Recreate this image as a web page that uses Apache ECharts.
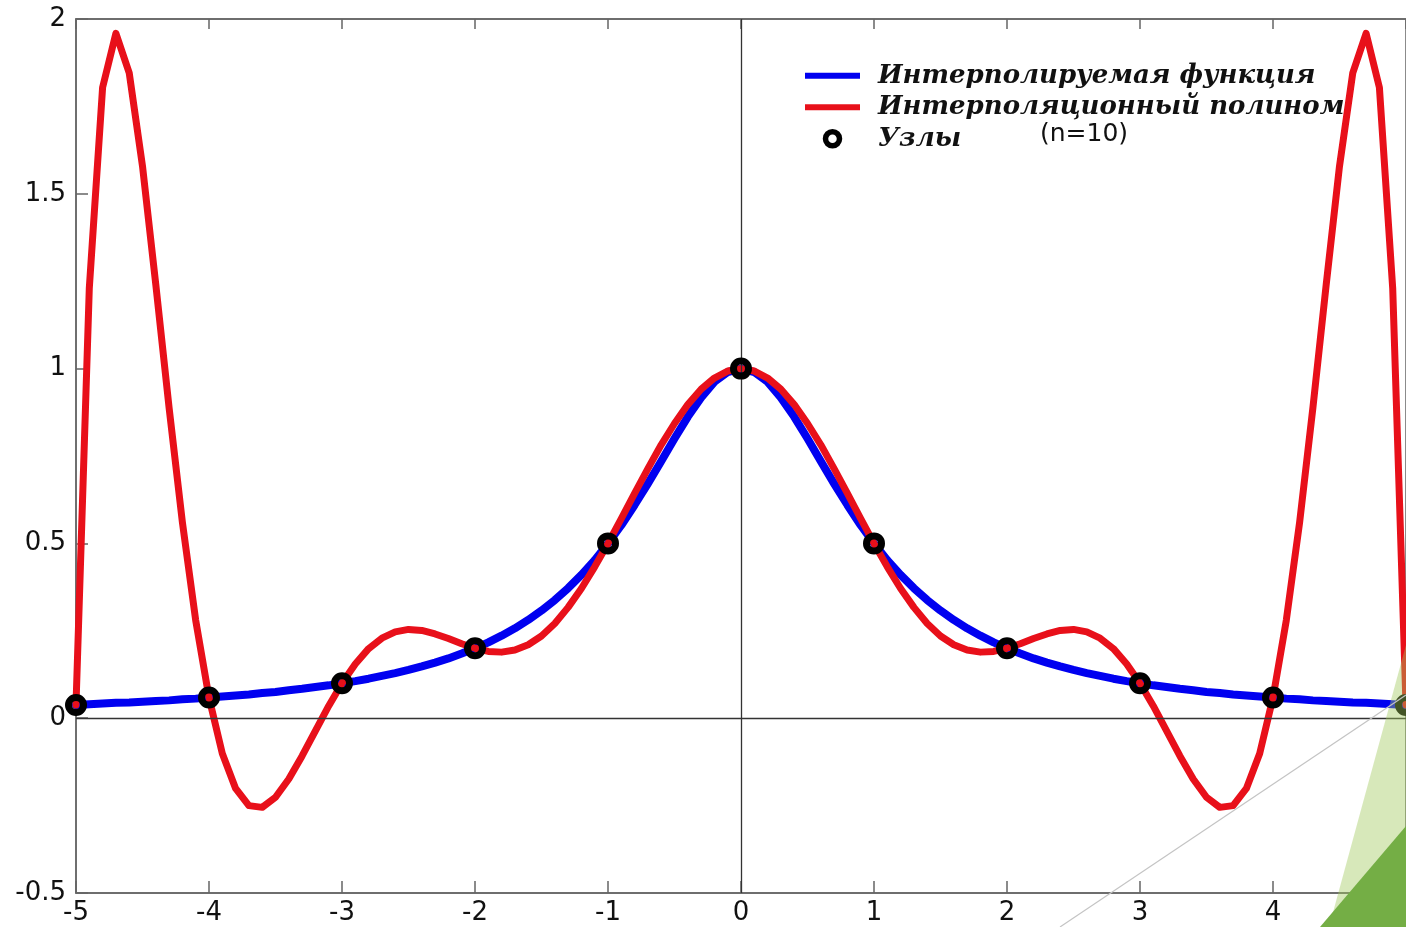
<!DOCTYPE html>
<html>
<head>
<meta charset="utf-8">
<script src="https://cdn.jsdelivr.net/npm/echarts@6/dist/echarts.min.js"></script>
<style>
html,body{margin:0;padding:0;background:#ffffff;}
#chart{width:1406px;height:927px;}
</style>
</head>
<body>
<div id="chart"></div>
<script>
// x sample points
const xValues = [
 -5.0,-4.9,-4.8,-4.7,-4.6,-4.5,-4.4,-4.3,-4.2,-4.1,
 -4.0,-3.9,-3.8,-3.7,-3.6,-3.5,-3.4,-3.3,-3.2,-3.1,
 -3.0,-2.9,-2.8,-2.7,-2.6,-2.5,-2.4,-2.3,-2.2,-2.1,
 -2.0,-1.9,-1.8,-1.7,-1.6,-1.5,-1.4,-1.3,-1.2,-1.1,
 -1.0,-0.9,-0.8,-0.7,-0.6,-0.5,-0.4,-0.3,-0.2,-0.1,
 0.0,
 0.1,0.2,0.3,0.4,0.5,0.6,0.7,0.8,0.9,1.0,
 1.1,1.2,1.3,1.4,1.5,1.6,1.7,1.8,1.9,2.0,
 2.1,2.2,2.3,2.4,2.5,2.6,2.7,2.8,2.9,3.0,
 3.1,3.2,3.3,3.4,3.5,3.6,3.7,3.8,3.9,4.0,
 4.1,4.2,4.3,4.4,4.5,4.6,4.7,4.8,4.9,5.0
];
// interpolated function (blue)
const functionValues = [
 0.038,0.040,0.042,0.044,0.045,0.047,0.049,0.051,0.054,0.056,
 0.059,0.062,0.065,0.068,0.072,0.075,0.080,0.084,0.089,0.094,
 0.100,0.106,0.113,0.121,0.129,0.138,0.148,0.159,0.171,0.185,
 0.200,0.217,0.236,0.257,0.281,0.308,0.338,0.372,0.410,0.452,
 0.500,0.552,0.610,0.671,0.735,0.800,0.862,0.917,0.962,0.990,
 1.000,
 0.990,0.962,0.917,0.862,0.800,0.735,0.671,0.610,0.552,0.500,
 0.452,0.410,0.372,0.338,0.308,0.281,0.257,0.236,0.217,0.200,
 0.185,0.171,0.159,0.148,0.138,0.129,0.121,0.113,0.106,0.100,
 0.094,0.089,0.084,0.080,0.075,0.072,0.068,0.065,0.062,0.059,
 0.056,0.054,0.051,0.049,0.047,0.045,0.044,0.042,0.040,0.038
];
// interpolation polynomial (red)
const polynomialValues = [
 0.038,1.230,1.804,1.959,1.846,1.579,1.240,0.888,0.560,0.280,
 0.059,-0.101,-0.201,-0.250,-0.255,-0.226,-0.174,-0.108,-0.036,0.035,
 0.100,0.155,0.199,0.229,0.247,0.254,0.251,0.241,0.228,0.213,
 0.200,0.191,0.189,0.195,0.210,0.235,0.271,0.317,0.371,0.433,
 0.500,0.571,0.643,0.714,0.782,0.843,0.897,0.941,0.973,0.993,
 1.000,
 0.993,0.973,0.941,0.897,0.843,0.782,0.714,0.643,0.571,0.500,
 0.433,0.371,0.317,0.271,0.235,0.210,0.195,0.189,0.191,0.200,
 0.213,0.228,0.241,0.251,0.254,0.247,0.229,0.199,0.155,0.100,
 0.035,-0.036,-0.108,-0.174,-0.226,-0.255,-0.250,-0.201,-0.101,0.059,
 0.280,0.560,0.888,1.240,1.579,1.846,1.959,1.804,1.230,0.038
];
// nodes
const nodeX = [-5,-4,-3,-2,-1,0,1,2,3,4,5];
const nodeY = [0.038,0.059,0.100,0.200,0.500,1.000,0.500,0.200,0.100,0.059,0.038];
// tick labels
const xTickLabels = ['-5','-4','-3','-2','-1','0','1','2','3','4','5'];
const yTickLabels = ['-0.5','0','0.5','1','1.5','2'];

const seriesNames = ['Интерполируемая функция','Интерполяционный полином','Узлы'];
const noteText = '(n=10)';

const xMin = Number(xTickLabels[0]), xMax = Number(xTickLabels[xTickLabels.length-1]);
const yMin = Number(yTickLabels[0]), yMax = Number(yTickLabels[yTickLabels.length-1]);

const axisColor = '#666666';
const labelFont = 'DejaVu Sans';

const chart = echarts.init(document.getElementById('chart'), null, {renderer:'canvas'});
chart.setOption({
  animation: false,
  backgroundColor: '#ffffff',
  grid: {left: 76, right: 0, top: 19, bottom: 34, containLabel: false, outerBoundsMode: 'none',
         show: true, borderColor: axisColor, borderWidth: 1.5, backgroundColor: 'transparent'},
  xAxis: [
    {
      type: 'value', min: xMin, max: xMax, interval: 1, position: 'bottom',
      axisLine: {show: true, onZero: false, lineStyle: {color: axisColor, width: 1.5}},
      axisTick: {show: true, inside: true, length: 12, lineStyle: {color: axisColor, width: 1.5}},
      axisLabel: {fontSize: 26, fontFamily: labelFont, color: '#111111', margin: 7,
        formatter: function (v) { const i = Math.round(v - xMin); return xTickLabels[i] !== undefined ? xTickLabels[i] : String(v); }},
      splitLine: {show: false}
    },
    {
      type: 'value', min: xMin, max: xMax, interval: 1, position: 'top',
      axisLine: {show: true, onZero: false, lineStyle: {color: axisColor, width: 1.5}},
      axisTick: {show: true, inside: true, length: 10, lineStyle: {color: axisColor, width: 1.5}},
      axisLabel: {show: false},
      splitLine: {show: false}
    }
  ],
  yAxis: {
    type: 'value', min: yMin, max: yMax, interval: 0.5,
    axisLine: {show: true, onZero: false, lineStyle: {color: axisColor, width: 1.5}},
    axisTick: {show: true, inside: true, length: 12, lineStyle: {color: axisColor, width: 1.5}},
    axisLabel: {fontSize: 26, fontFamily: labelFont, color: '#111111', margin: 10,
      formatter: function (v) { const i = Math.round((v - yMin) / 0.5); return yTickLabels[i] !== undefined ? yTickLabels[i] : String(v); }},
    splitLine: {show: false}
  },
  legend: {
    orient: 'vertical', left: 800, top: 55,
    itemWidth: 55, itemHeight: 14, itemGap: 0,
    selectedMode: false,
    textStyle: {fontFamily: 'DejaVu Serif', fontStyle: 'italic', fontWeight: 'bold', fontSize: 26, color: '#111111', lineHeight: 31.5, padding: [0, 0, 0, 13]},
    data: [
      {name: seriesNames[0], icon: 'path://M0 0H55V6H0Z', itemStyle: {color: '#0000f0', borderWidth: 0}},
      {name: seriesNames[1], icon: 'path://M0 0H55V6H0Z', itemStyle: {color: '#e8101a', borderWidth: 0}},
      {name: seriesNames[2], icon: 'circle', itemStyle: {color: '#ffffff', borderColor: '#000000', borderWidth: 5.5}}
    ]
  },
  series: [
    {
      name: seriesNames[0], type: 'line', xAxisIndex: 0,
      data: xValues.map((x, i) => [x, functionValues[i]]),
      showSymbol: false, symbol: 'none', smooth: false, z: 2,
      lineStyle: {color: '#0000f0', width: 8, cap: 'round', join: 'round'},
      itemStyle: {color: '#0000f0'},
      emphasis: {disabled: true},
      markLine: {
        silent: true, symbol: ['none', 'none'], label: {show: false}, animation: false,
        lineStyle: {color: '#333333', width: 1.3, type: 'solid'},
        emphasis: {disabled: true},
        data: [{xAxis: 0}, {yAxis: 0}]
      }
    },
    {
      name: seriesNames[1], type: 'line', xAxisIndex: 0,
      data: xValues.map((x, i) => [x, polynomialValues[i]]),
      showSymbol: false, symbol: 'none', smooth: false, z: 3,
      lineStyle: {color: '#e8101a', width: 7, cap: 'round', join: 'round'},
      itemStyle: {color: '#e8101a'},
      emphasis: {disabled: true}
    },
    {
      name: seriesNames[2], type: 'scatter', xAxisIndex: 0,
      data: nodeX.map((x, i) => [x, nodeY[i]]),
      symbol: 'circle', symbolSize: 15, z: 5,
      itemStyle: {color: 'rgba(0,0,0,0)', borderColor: '#000000', borderWidth: 7, opacity: 1},
      emphasis: {disabled: true}
    }
  ],
  graphic: [
    {type: 'text', left: 1040, top: 122, z: 10,
     style: {text: noteText, font: '25px "DejaVu Sans"', fill: '#111111'}},
    {type: 'polygon', z: 20, silent: true,
     shape: {points: [[1329, 927], [1406, 645], [1406, 927]]},
     style: {fill: 'rgba(160,200,90,0.42)'}},
    {type: 'polygon', z: 21, silent: true,
     shape: {points: [[1320, 927], [1406, 826], [1406, 927]]},
     style: {fill: '#74ae45'}},
    {type: 'line', z: 22, silent: true,
     shape: {x1: 1060, y1: 927, x2: 1406, y2: 695},
     style: {stroke: '#c4c4c4', lineWidth: 1.2}}
  ]
});
</script>
</body>
</html>
